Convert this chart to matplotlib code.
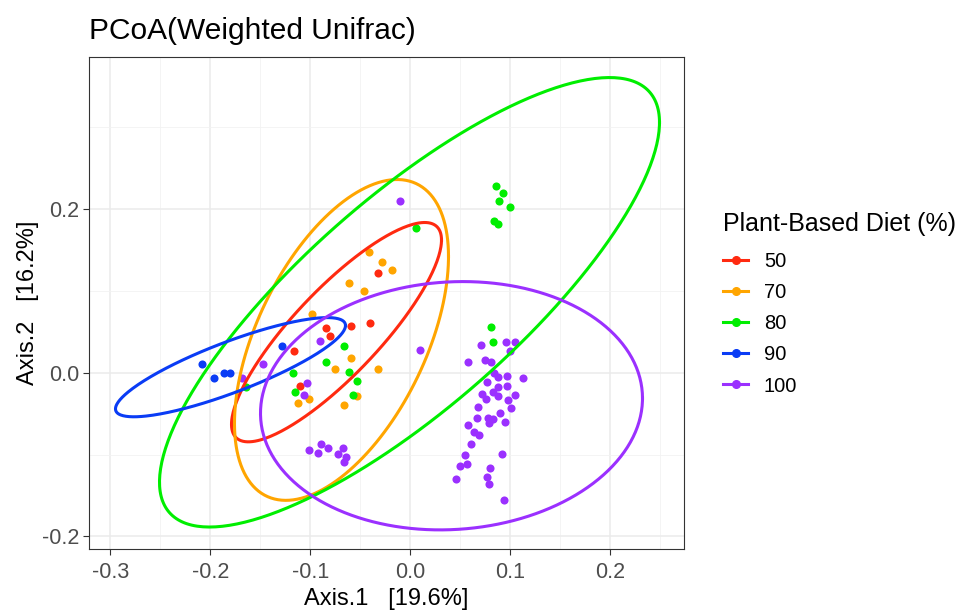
import numpy as np
import matplotlib
matplotlib.use("Agg")
import matplotlib.pyplot as plt
from matplotlib.lines import Line2D

plt.rcParams['font.family'] = ['Liberation Sans', 'DejaVu Sans']

groups = ["50", "70", "80", "90", "100"]
colors = ["#FF2A10", "#FFA500", "#00EE00", "#0A3CF5", "#9B30FF"]

# sample coordinates per group (Axis.1, Axis.2)
x50 = [-0.032, -0.059, -0.040, -0.084, -0.080, -0.116, -0.110]
y50 = [0.122, 0.057, 0.061, 0.054, 0.045, 0.026, -0.016]

x70 = [-0.041, -0.028, -0.018, -0.061, -0.046, -0.098, -0.059, -0.075, -0.032,
       -0.101, -0.112, -0.066, -0.053]
y70 = [0.148, 0.135, 0.126, 0.110, 0.100, 0.072, 0.018, 0.005, 0.005,
       -0.032, -0.037, -0.039, -0.029]

x80 = [0.086, 0.093, 0.089, 0.100, 0.084, 0.088, 0.006, 0.081, 0.083, -0.066,
       -0.084, -0.061, -0.053, -0.057, -0.115, -0.117, -0.164]
y80 = [0.228, 0.220, 0.210, 0.202, 0.185, 0.182, 0.177, 0.056, 0.037, 0.033,
       0.013, 0.001, -0.010, -0.027, -0.024, 0.000, -0.017]

x90 = [-0.208, -0.196, -0.186, -0.180, -0.128]
y90 = [0.010, -0.007, 0.000, 0.000, 0.033]

x100 = [-0.010, 0.010, -0.090, -0.147, -0.168, -0.103, -0.106, -0.101, -0.092,
        -0.089, -0.082, -0.072, -0.067, -0.064, -0.066,
        0.071, 0.058, 0.075, 0.081, 0.096, 0.105, 0.100, 0.084, 0.088, 0.097,
        0.113, 0.077, 0.088, 0.097, 0.072, 0.076, 0.083, 0.088, 0.105, 0.098,
        0.101, 0.068, 0.090, 0.067, 0.078, 0.083, 0.079, 0.095, 0.058, 0.064,
        0.069, 0.061, 0.055, 0.092, 0.057, 0.050, 0.080, 0.046, 0.077, 0.079,
        0.094]
y100 = [0.210, 0.028, 0.039, 0.011, -0.007, -0.013, -0.027, -0.094, -0.098,
        -0.087, -0.092, -0.099, -0.092, -0.103, -0.109,
        0.034, 0.013, 0.016, 0.013, 0.038, 0.038, 0.026, 0.000, -0.005, -0.004,
        -0.006, -0.011, -0.017, -0.016, -0.026, -0.032, -0.024, -0.029, -0.027,
        -0.034, -0.043, -0.042, -0.049, -0.055, -0.055, -0.057, -0.061, -0.060,
        -0.064, -0.072, -0.076, -0.087, -0.100, -0.099, -0.111, -0.114, -0.116,
        -0.130, -0.127, -0.136, -0.155]

xs = [x50, x70, x80, x90, x100]
ys = [y50, y70, y80, y90, y100]

# 95% ellipses: centre, half-extent along each axis, correlation
ell_cx = [-0.074, -0.069, -0.001, -0.180, 0.041]
ell_cy = [0.0495, 0.040, 0.086, 0.0067, -0.0404]
ell_sx = [0.105, 0.107, 0.250, 0.115, 0.191]
ell_sy = [0.134, 0.196, 0.2746, 0.0606, 0.1517]
ell_r = [0.84, 0.52, 0.80, 0.84, 0.06]

xticks = [-0.3, -0.2, -0.1, 0.0, 0.1, 0.2]
yticks = [-0.2, 0.0, 0.2]

fig = plt.figure(figsize=(9.6, 6.11), dpi=100)
ax = fig.add_axes([0.0927, 0.1010, 0.6198, 0.8057])

t = np.linspace(0, 2 * np.pi, 300)
for i, g in enumerate(groups):
    ax.scatter(xs[i], ys[i], s=34, color=colors[i], linewidths=0, zorder=3)
    ex = ell_cx[i] + ell_sx[i] * np.cos(t)
    ey = ell_cy[i] + ell_sy[i] * (ell_r[i] * np.cos(t) + np.sqrt(1 - ell_r[i] ** 2) * np.sin(t))
    ax.plot(ex, ey, color=colors[i], lw=2.2, zorder=4)

ax.set_xlim(-0.3215, 0.2735)
ax.set_ylim(-0.2158, 0.3857)
ax.set_xticks(xticks)
ax.set_xticklabels([f"{v:.1f}" for v in xticks])
ax.set_yticks(yticks)
ax.set_yticklabels([f"{v:.1f}" for v in yticks])
ax.set_xticks(np.arange(-0.3, 0.26, 0.05), minor=True)
ax.set_yticks([-0.1, 0.1, 0.3], minor=True)
ax.grid(which='major', color='#EBEBEB', lw=1.1)
ax.grid(which='minor', color='#F2F2F2', lw=0.6)
ax.set_axisbelow(True)
ax.tick_params(which='minor', length=0)
ax.tick_params(which='major', length=4, width=0.8, color='#333333',
               labelsize=15.5, labelcolor='#4D4D4D')
ax.tick_params(axis='x', pad=5)
ax.tick_params(axis='y', pad=3)
for sp in ax.spines.values():
    sp.set_color('#333333')
    sp.set_linewidth(0.8)

ax.set_xlabel("Axis.1   [19.6%]", fontsize=17, labelpad=4)
ax.set_ylabel("Axis.2   [16.2%]", fontsize=17, labelpad=2)
ax.set_title("PCoA(Weighted Unifrac)", fontsize=21.5, loc='left', pad=13)

handles = [Line2D([0], [0], color=c, lw=2.2, marker='o', markersize=5.5) for c in colors]
leg = fig.legend(handles, groups, title="Plant-Based Diet (%)", loc='upper left',
                 bbox_to_anchor=(0.7343, 0.6835), frameon=False, fontsize=14.5,
                 title_fontsize=18, handlelength=1.25, handletextpad=0.78,
                 labelspacing=0.6)
leg._legend_box.align = "left"
leg._legend_box.sep = 12

fig.savefig("out.png", dpi=100)
